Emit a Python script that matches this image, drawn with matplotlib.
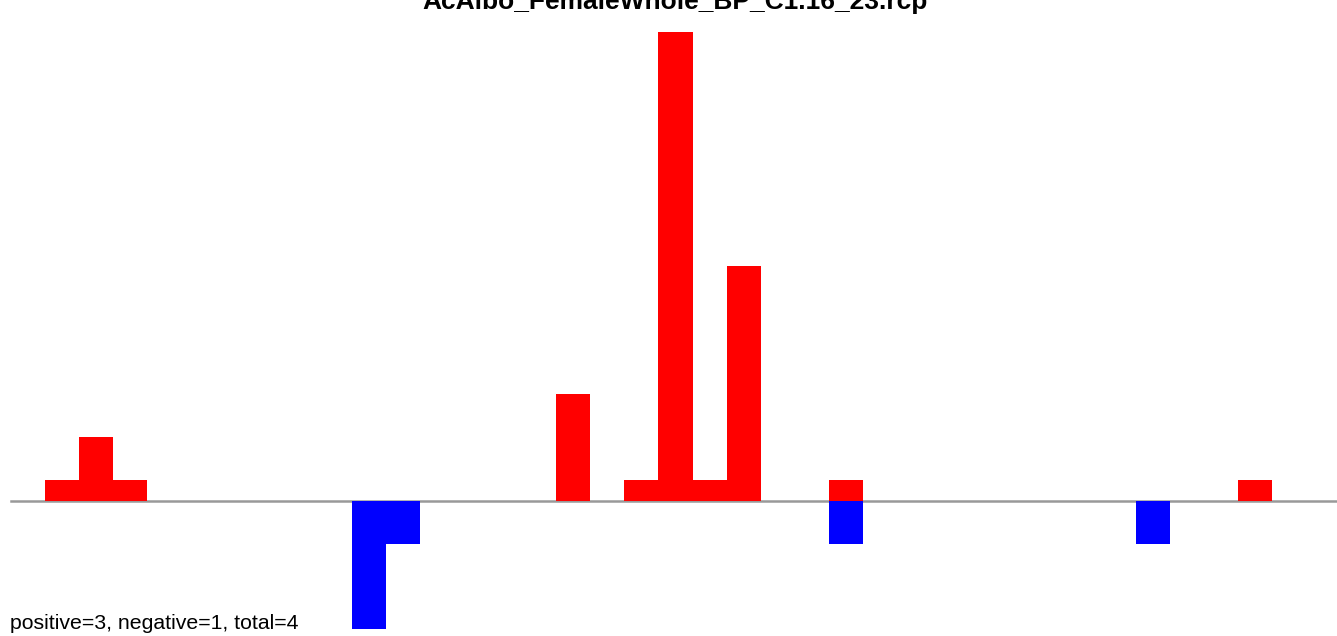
import matplotlib
matplotlib.use("Agg")
import matplotlib.pyplot as plt

plt.rcParams['font.family'] = ['Liberation Sans', 'DejaVu Sans']

title = "AcAlbo_FemaleWhole_BP_C1.16_23.rcp"
summary = "positive=3, negative=1, total=4"
n_bins = 38
pos_bins = [1, 2, 3, 16, 18, 19, 20, 21, 24, 36]
pos_vals = [1, 3, 1, 5, 1, 22, 1, 11, 1, 1]
neg_bins = [10, 11, 24, 33]
neg_vals = [-6, -2, -2, -2]

W, H = 1337, 636
fig = plt.figure(figsize=(W / 100, H / 100), dpi=100)
left_px, bin_px = 10.9, 34.08
ax = fig.add_axes([left_px / W, 0, (n_bins * bin_px) / W, 1])
ax.set_xlim(0, n_bins)
unit = 21.33
ax.set_ylim(-(H - 501) / unit, 501 / unit)
ax.axis('off')

ax.bar(pos_bins, pos_vals, width=1.0, align='edge', color='#ff0000', linewidth=0, zorder=2)
ax.bar(neg_bins, neg_vals, width=1.0, align='edge', color='#0000ff', linewidth=0, zorder=2)
ax.plot([0, n_bins * 1.05], [0, 0], color='#999999', linewidth=1.8, zorder=1, clip_on=False)

fig.text(675 / W, 1 - 9 / H, title, ha='center', va='baseline', fontsize=19, fontweight='bold')
fig.text(10 / W, 1 - 629 / H, summary, ha='left', va='baseline', fontsize=15.3)

fig.savefig('out.png', dpi=100)
